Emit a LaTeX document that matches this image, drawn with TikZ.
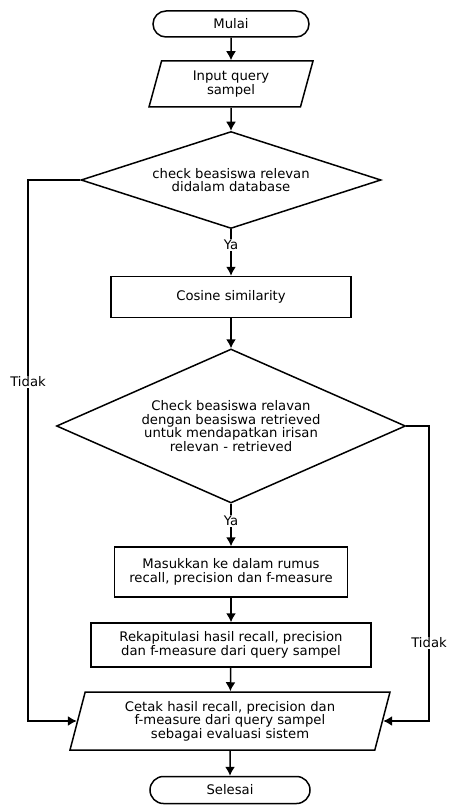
\documentclass[tikz,border=0pt]{standalone}
\usepackage{fontspec}
\setmainfont{DejaVu Sans}
\usetikzlibrary{shapes.geometric,shapes.misc,arrows.meta}

\tikzset{
    box/.style={draw, line width=1.5pt, align=center, inner sep=0pt,
        font=\fontsize{13.2}{13.4}\selectfont},
    terminal/.style={box, rounded rectangle},
    io/.style={box, trapezium, trapezium stretches body},
    process/.style={box, rectangle},
    decision/.style={box, diamond, aspect=2.5},
    lbl/.style={fill=white, inner sep=1pt, font=\fontsize{13.2}{13.4}\selectfont},
}

\begin{document}
\begin{tikzpicture}[x=1pt, y=-1pt, line width=1.5pt, >={Latex[length=9pt, width=10pt]}]
    \useasboundingbox (0,0) rectangle (448,805);

    \node[terminal, minimum width=156pt, minimum height=26pt] (mulai) at (231,24) {Mulai};
    \node[io, trapezium left angle=64, trapezium right angle=116,
        minimum width=164pt, minimum height=46pt] (input) at (231,84) {Input query\\sampel};
    \node[decision, minimum width=300pt, minimum height=97pt] (chk1) at (231,180)
        {check beasiswa relevan\\didalam database};
    \node[process, minimum width=240pt, minimum height=41pt] (cos) at (231,297) {Cosine similarity};
    \node[decision, minimum width=349pt, minimum height=154pt] (chk2) at (231,426)
        {Check beasiswa relavan\\dengan beasiswa retrieved\\untuk mendapatkan irisan\\relevan - retrieved};
    \node[process, minimum width=233pt, minimum height=50pt] (rumus) at (231,572)
        {Masukkan ke dalam rumus\\recall, precision dan f-measure};
    \node[process, minimum width=280pt, minimum height=44pt] (rekap) at (231,645)
        {Rekapitulasi hasil recall, precision\\dan f-measure dari query sampel};
    \node[io, trapezium left angle=69, trapezium right angle=111,
        minimum width=320pt, minimum height=58pt] (cetak) at (230,721)
        {Cetak hasil recall, precision dan\\f-measure dari query sampel\\sebagai evaluasi sistem};
    \node[terminal, minimum width=160pt, minimum height=27pt] (selesai) at (230,790) {Selesai};

    \coordinate (kiri) at (28,382);
    \coordinate (kanan) at (429,643);

    % alur utama
    \foreach \a/\b in {mulai/input, input/chk1, cos/chk2, rumus/rekap, rekap/cetak, cetak/selesai} {
        \draw[->] (\a) -- (\b);
    }
    \draw[->] (chk1) -- node[lbl, pos=0.33] {Ya} (cos);
    \draw[->] (chk2) -- node[lbl, pos=0.4] {Ya} (rumus);

    % cabang tidak
    \draw[->] (chk1.west) -| (kiri) node[lbl] {Tidak} |- (cetak.west);
    \draw[->] (chk2.east) -| (kanan) node[lbl] {Tidak} |- (cetak.east);
\end{tikzpicture}
\end{document}
